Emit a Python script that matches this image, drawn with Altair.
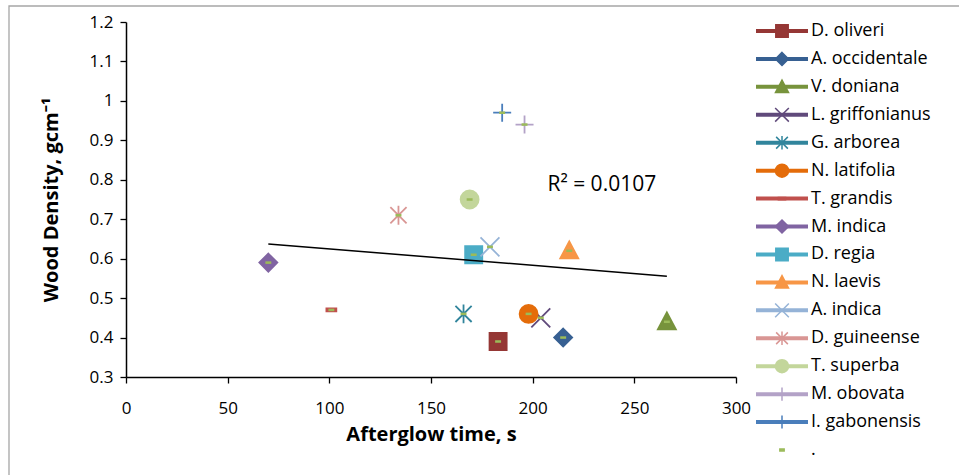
import altair as alt
import pandas as pd

# Afterglow time (s) and wood density (g/cm3) for each species
species = [
    "D. oliveri", "A. occidentale", "V. doniana", "L. griffonianus", "G. arborea",
    "N. latifolia", "T. grandis", "M. indica", "D. regia", "N. laevis",
    "A. indica", "D. guineense", "T. superba", "M. obovata", "I. gabonensis",
]
afterglow = [183, 215, 266, 204, 166, 198, 101, 70, 171, 218, 179, 134, 169, 196, 185]
density = [0.39, 0.40, 0.44, 0.45, 0.46, 0.46, 0.47, 0.59, 0.61, 0.62, 0.63, 0.71, 0.75, 0.94, 0.97]

# the extra "." series marks every point and carries the trendline
legend_names = species + ["."]
series_colors = [
    "#953735", "#376092", "#77933C", "#604A7B", "#31859C", "#E46C0A", "#C0504D",
    "#8064A2", "#4BACC6", "#F79646", "#95B3D7", "#D99694", "#C3D69B", "#B3A2C7",
    "#4A7EBB", "#9BBB59",
]

SQUARE = "M-0.95,-0.95H0.95V0.95H-0.95Z"
DIAMOND = "M0,-1L1,0L0,1L-1,0Z"
TRIANGLE = "M0,-1.05L1,0.85H-1Z"
XMARK = "M-1.05,-1.05L1.05,1.05M-1.05,1.05L1.05,-1.05"
STAR = "M-0.9,-0.9L0.9,0.9M-0.9,0.9L0.9,-0.9M0,-1.05V1.05"
DASH = "M-0.55,-0.17H0.55V0.17H-0.55Z"
PLUS = "M-1,0H1M0,-1V1"
DOT = "M-0.33,-0.14H0.33V0.14H-0.33Z"
series_shapes = [
    SQUARE, DIAMOND, TRIANGLE, XMARK, STAR, "circle", DASH, DIAMOND,
    SQUARE, TRIANGLE, XMARK, STAR, "circle", PLUS, PLUS, DOT,
]

x_ticks = [0, 50, 100, 150, 200, 250, 300]
y_ticks = [0.3, 0.4, 0.5, 0.6, 0.7, 0.8, 0.9, 1.0, 1.1, 1.2]
r2_label = "R² = 0.0107"

FONT = "Open Sans"
df = pd.DataFrame({"species": species, "afterglow": afterglow, "density": density})
legend_df = pd.DataFrame({"species": legend_names})

color_scale = alt.Scale(domain=legend_names, range=series_colors)
shape_scale = alt.Scale(domain=legend_names, range=series_shapes)

axis_style = dict(
    domainColor="black",
    domainWidth=1.5,
    tickColor="black",
    tickWidth=1.3,
    tickSize=6,
    grid=False,
    labelFont=FONT,
    labelFontSize=17,
    labelColor="black",
    labelOverlap=False,
    labelFlush=False,
    titleFont=FONT,
    titleColor="black",
    titleFontWeight="bold",
    titleFontSize=20,
)

x_enc = alt.X(
    "afterglow:Q",
    scale=alt.Scale(domain=[0, 300], nice=False),
    axis=alt.Axis(
        values=x_ticks,
        title="Afterglow time, s",
        titlePadding=8,
        labelPadding=17,
        **axis_style,
    ),
)
y_enc = alt.Y(
    "density:Q",
    scale=alt.Scale(domain=[0.3, 1.2], nice=False, zero=False),
    axis=alt.Axis(
        values=y_ticks,
        format="~g",
        title="Wood Density, gcm⁻¹",
        titlePadding=28,
        labelPadding=7,
        **axis_style,
    ),
)

frame = alt.Chart(pd.DataFrame({"f": [0]})).mark_rect(
    fill=None, stroke="#A6A6A6", strokeWidth=1.3
).encode(
    x=alt.value(-117), x2=alt.value(1000), y=alt.value(-16), y2=alt.value(600)
)

points = alt.Chart(df).mark_point(filled=True, size=324, opacity=1, strokeWidth=1.8).encode(
    x=x_enc,
    y=y_enc,
    color=alt.Color("species:N", scale=color_scale, legend=None),
    stroke=alt.Stroke("species:N", scale=color_scale, legend=None),
    shape=alt.Shape("species:N", scale=shape_scale, legend=None),
)

dots = alt.Chart(df).mark_point(
    filled=True, size=324, opacity=1, shape=DOT, color="#9BBB59"
).encode(x=x_enc, y=y_enc)

trend = alt.Chart(df).transform_regression(
    "afterglow", "density"
).mark_line(color="black", strokeWidth=1.5).encode(x=x_enc, y=y_enc)

r2 = alt.Chart(pd.DataFrame({"afterglow": [234], "density": [0.787], "t": [r2_label]})).mark_text(
    font=FONT, fontSize=21, color="black"
).encode(x=x_enc, y=y_enc, text="t:N")

main = alt.layer(points, trend, dots, r2)

# legend column: swatch line, marker and name for each series
leg_y = alt.Y(
    "species:N", sort=legend_names, axis=None,
    scale=alt.Scale(type="point", range=[9, 428], padding=0),
)
leg_lines = alt.Chart(legend_df).transform_filter(
    alt.datum.species != "."
).mark_rule(strokeWidth=4).encode(
    y=leg_y,
    x=alt.value(630), x2=alt.value(682),
    color=alt.Color("species:N", scale=color_scale, legend=None),
)
leg_marks = alt.Chart(legend_df).mark_point(filled=True, size=170, opacity=1, strokeWidth=1.5).encode(
    y=leg_y,
    x=alt.value(656),
    color=alt.Color("species:N", scale=color_scale, legend=None),
    stroke=alt.Stroke("species:N", scale=color_scale, legend=None),
    shape=alt.Shape("species:N", scale=shape_scale, legend=None),
)
leg_text = alt.Chart(legend_df).mark_text(
    align="left", baseline="middle", font=FONT, fontSize=18, color="black"
).encode(y=leg_y, x=alt.value(685), text="species:N")

legend = alt.layer(leg_lines, leg_marks, leg_text)

chart = alt.layer(frame, main, legend).resolve_scale(y="independent").properties(
    width=610,
    height=355,
    background="white",
    autosize=alt.AutoSizeParams(type="none"),
    padding={"left": 126, "top": 22, "right": 223, "bottom": 98},
).configure_view(stroke=None)

chart.save("out.html", embed_options={"renderer": "svg", "actions": False})
